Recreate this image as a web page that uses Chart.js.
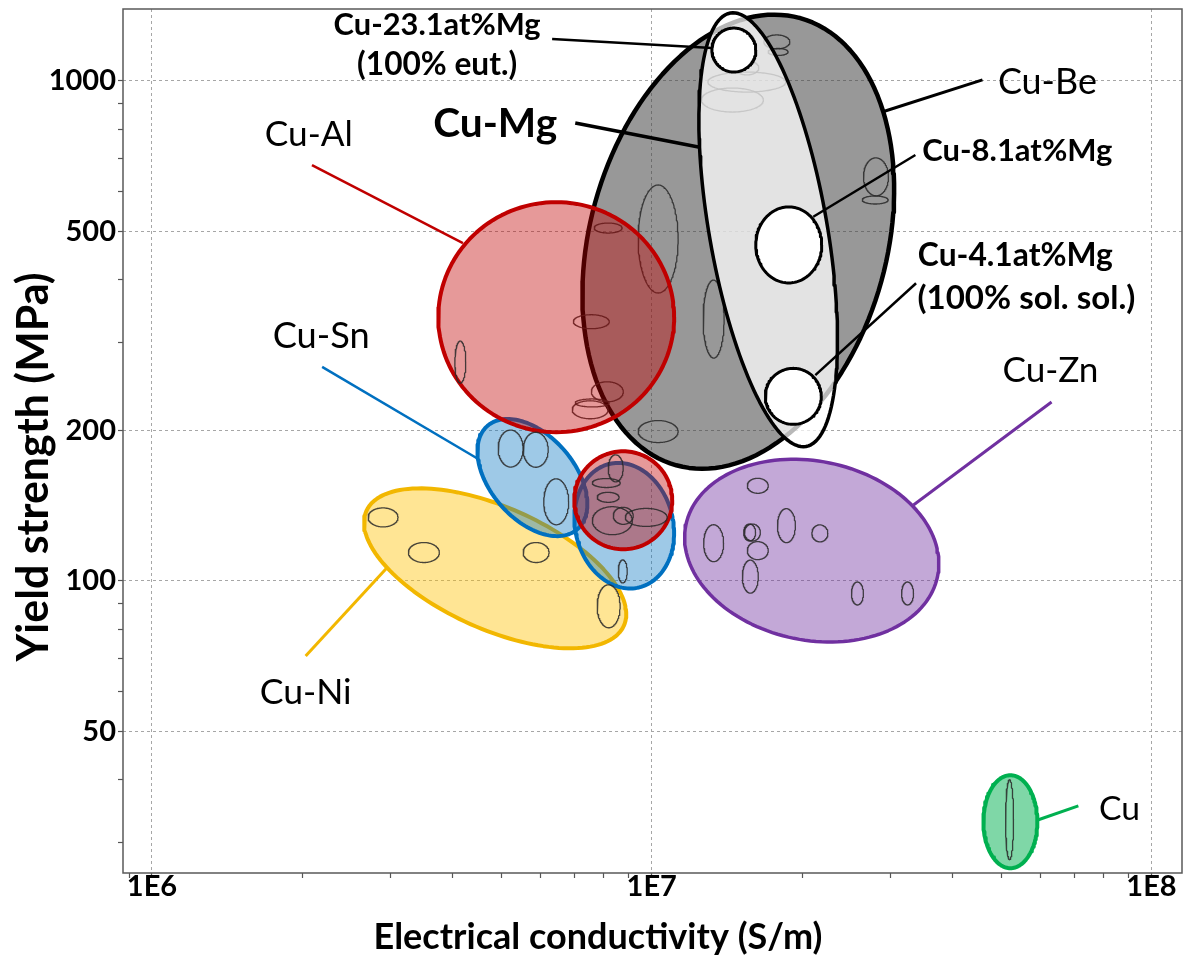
<!DOCTYPE html>
<html>
<head>
<meta charset="utf-8">
<script src="https://cdn.jsdelivr.net/npm/chart.js@4.4.1/dist/chart.umd.min.js"></script>
<style>
  html, body { margin: 0; padding: 0; background: #fff; }
  #wrap { width: 1189px; height: 974px; }
</style>
</head>
<body>
<div id="wrap"><canvas id="chart" width="1189" height="974"></canvas></div>
<script>
// ---------- axes ----------
const xTickValues = [1e6, 1e7, 1e8];
const xTickLabels = ['1E6', '1E7', '1E8'];
const yTickValues = [50, 100, 200, 500, 1000];
const yTickLabels = ['50', '100', '200', '500', '1000'];
const yMinorValues = [30, 40, 60, 70, 80, 90, 300, 400, 600, 700, 800, 900];
const xAxisTitle = 'Electrical conductivity (S/m)';
const yAxisTitle = 'Yield strength (MPa)';

// ---------- alloy-family property envelopes ----------
// centre (S/m, MPa), half-spans in decades, tilt of the long axis in degrees
const regionFamily = ['Cu-Be', 'Cu-Mg', 'Cu-Ni', 'Cu-Sn', 'Cu-Sn', 'Cu-Al', 'Cu-Al', 'Cu-Zn', 'Cu'];
const regionCond   = [1.49e7, 1.71e7, 4.86e6, 5.77e6, 8.81e6, 6.44e6, 8.77e6, 2.09e7, 5.22e7];
const regionYield  = [477, 504, 106, 161, 129, 337, 145, 115, 33.0];
const regionMajor  = [0.464, 0.440, 0.282, 0.137, 0.127, 0.236, 0.098, 0.257, 0.093];
const regionMinor  = [0.297, 0.118, 0.122, 0.084, 0.098, 0.230, 0.098, 0.179, 0.054];
const regionTilt   = [74.5, 99.9, -24, 131, 103.5, 0, 0, -11.5, 90];

// ---------- Cu-Mg alloys ----------
const mgAlloy = ['Cu-23.1at%Mg', 'Cu-8.1at%Mg', 'Cu-4.1at%Mg'];
const mgCond  = [1.46e7, 1.88e7, 1.92e7];
const mgYield = [1153, 470, 234];
const mgSpanX = [0.044, 0.066, 0.056];
const mgSpanY = [0.044, 0.076, 0.056];

// ---------- individual commercial grades ----------
const gradeFamily = [
  'Cu-Be', 'Cu-Be', 'Cu-Be', 'Cu-Be', 'Cu-Be', 'Cu-Be', 'Cu-Be', 'Cu-Be', 'Cu-Be', 'Cu-Be',
  'Cu-Be', 'Cu-Be', 'Cu-Be', 'Cu-Be', 'Cu-Be',
  'Cu-Al', 'Cu-Sn', 'Cu-Sn', 'Cu-Sn',
  'Cu-Al', 'Cu-Al', 'Cu-Al', 'Cu-Al', 'Cu-Al', 'Cu-Al', 'Cu-Sn',
  'Cu-Ni', 'Cu-Ni', 'Cu-Ni', 'Cu-Ni',
  'Cu-Zn', 'Cu-Zn', 'Cu-Zn', 'Cu-Zn', 'Cu-Zn', 'Cu-Zn', 'Cu-Zn', 'Cu-Zn', 'Cu-Zn', 'Cu-Zn',
  'Cu'
];
const gradeCond = [
  1.78e7, 1.79e7, 1.55e7, 1.55e7, 1.45e7, 1.03e7, 8.18e6, 7.57e6, 1.33e7, 8.15e6,
  7.53e6, 7.60e6, 1.03e7, 2.81e7, 2.80e7,
  4.14e6, 5.22e6, 5.86e6, 6.44e6,
  8.47e6, 8.11e6, 8.18e6, 8.34e6, 8.77e6, 9.75e6, 8.75e6,
  2.90e6, 3.50e6, 5.87e6, 8.20e6,
  1.33e7, 1.63e7, 1.57e7, 1.59e7, 1.63e7, 1.575e7, 1.86e7, 2.17e7, 2.58e7, 3.25e7,
  5.20e7
];
const gradeYield = [
  1197, 1143, 1062, 995, 916, 483, 508, 330, 334, 239,
  220, 227, 199, 643, 578,
  274, 184, 183, 144,
  168, 157, 147, 132, 135, 134, 104.5,
  134, 114, 114, 89,
  119, 155, 125, 125, 115, 102, 129, 124.5, 94.4, 94.4,
  33.3
];
const gradeSpanX = [
  0.026, 0.020, 0.024, 0.078, 0.062, 0.040, 0.028, 0.036, 0.021, 0.032,
  0.036, 0.034, 0.040, 0.025, 0.026,
  0.011, 0.025, 0.025, 0.025,
  0.015, 0.028, 0.022, 0.040, 0.020, 0.042, 0.009,
  0.030, 0.031, 0.026, 0.023,
  0.020, 0.021, 0.012, 0.016, 0.021, 0.016, 0.018, 0.016, 0.012, 0.012,
  0.008
];
const gradeSpanY = [
  0.014, 0.007, 0.014, 0.020, 0.024, 0.108, 0.010, 0.014, 0.078, 0.020,
  0.018, 0.008, 0.022, 0.038, 0.008,
  0.042, 0.037, 0.035, 0.046,
  0.027, 0.009, 0.010, 0.028, 0.017, 0.018, 0.023,
  0.019, 0.020, 0.020, 0.043,
  0.037, 0.015, 0.017, 0.017, 0.018, 0.033, 0.034, 0.017, 0.023, 0.023,
  0.080
];

// ---------- callouts ----------
const noteText  = ['Cu-23.1at%Mg', '(100% eut.)', 'Cu-Mg', 'Cu-Be', 'Cu-8.1at%Mg', 'Cu-4.1at%Mg',
                   '(100% sol. sol.)', 'Cu-Al', 'Cu-Sn', 'Cu-Zn', 'Cu-Ni', 'Cu'];
const noteCond  = [3.72e6, 3.72e6, 4.86e6, 6.19e7, 5.39e7, 5.34e7, 5.62e7, 2.06e6, 2.18e6, 6.28e7, 2.03e6, 8.63e7];
const noteYield = [1236, 1028, 773, 942, 692, 427, 350, 741, 292, 250, 56.8, 33.3];

const leaderFromCond  = [6.32e6, 7.03e6, 4.59e7, 3.37e7, 3.38e7, 2.09e6, 2.19e6, 6.31e7, 2.03e6, 7.14e7];
const leaderFromYield = [1213, 824, 1005, 711, 394, 679, 268, 228, 70.8, 35.5];
const leaderToCond    = [1.32e7, 1.24e7, 2.89e7, 2.105e7, 2.125e7, 4.19e6, 4.47e6, 3.34e7, 2.95e6, 5.94e7];
const leaderToYield   = [1164, 738, 867, 535, 258, 474, 176, 141.9, 106.2, 33.3];

// ---------- styles ----------
const familyStyle = {
  'Cu-Be': { fill: 'rgba(60,60,60,0.53)',   stroke: '#000000', width: 4.5 },
  'Cu-Mg': { fill: 'rgba(255,255,255,0.72)', stroke: '#000000', width: 3.5 },
  'Cu-Ni': { fill: 'rgba(255,192,0,0.42)',  stroke: '#f2b700', width: 4 },
  'Cu-Sn': { fill: 'rgba(0,112,192,0.38)',  stroke: '#0070c0', width: 4 },
  'Cu-Al': { fill: 'rgba(192,0,0,0.40)',    stroke: '#c00000', width: 4 },
  'Cu-Zn': { fill: 'rgba(112,48,160,0.42)', stroke: '#7030a0', width: 3.5 },
  'Cu':    { fill: 'rgba(0,176,80,0.50)',   stroke: '#00b050', width: 4 }
};
const mgStyle = { fill: '#ffffff', stroke: '#000000', width: 3 };
const gradeStyle = { stroke: 'rgba(40,40,40,0.85)', width: 1.3 };
const leaderColor = ['#000', '#000', '#000', '#000', '#000', '#c00000', '#0070c0', '#7030a0', '#f2b700', '#00b050'];
const leaderWidth = [2.5, 3.5, 3, 2.5, 2.5, 2.5, 2.5, 3, 3, 3];
const noteBold  = [true, true, true, false, true, true, true, false, false, false, false, false];
const noteWidth = [207, 160, 124, 99, 190, 195, 218, 88, 97, 96, 92, 41];
const FONT = 'Lato, "Open Sans", sans-serif';
const layout = { xTitleX: 598, xTitleBase: 949, yTitleX: 48, yTitleY: 467, xTitleWidth: 449, yTitleWidth: 389 };

// ---------- geometry helpers (log-space ellipses) ----------
const N = 144;
function ring(cond, yld, major, minor, tiltDeg) {
  const lx = Math.log10(cond), ly = Math.log10(yld);
  const t = tiltDeg * Math.PI / 180, c = Math.cos(t), s = Math.sin(t);
  const pts = [];
  for (let k = 0; k <= N; k++) {
    const a = 2 * Math.PI * k / N;
    const u = major * Math.cos(a), v = minor * Math.sin(a);
    pts.push({ x: Math.pow(10, lx + u * c - v * s), y: Math.pow(10, ly + u * s + v * c) });
  }
  return pts;
}

const layers = [];
function addShape(points, fill, stroke, width) {
  layers.push({
    data: points, showLine: true, fill: fill ? 'shape' : false,
    backgroundColor: fill || 'transparent', borderColor: stroke, borderWidth: width,
    pointRadius: 0, pointHoverRadius: 0, borderJoinStyle: 'round', borderCapStyle: 'round'
  });
}
function addGrade(i) {
  addShape(ring(gradeCond[i], gradeYield[i], gradeSpanX[i], gradeSpanY[i], 0), null, gradeStyle.stroke, gradeStyle.width);
}

// bottom-to-top drawing order
regionFamily.forEach((fam, r) => {
  const st = familyStyle[fam];
  addShape(ring(regionCond[r], regionYield[r], regionMajor[r], regionMinor[r], regionTilt[r]), st.fill, st.stroke, st.width);
  if (fam === 'Cu-Be') {
    gradeFamily.forEach((g, i) => { if (g === 'Cu-Be') addGrade(i); });
  }
  if (fam === 'Cu-Mg') {
    mgAlloy.forEach((_, i) => addShape(ring(mgCond[i], mgYield[i], mgSpanX[i], mgSpanY[i], 0), mgStyle.fill, mgStyle.stroke, mgStyle.width));
  }
});
gradeFamily.forEach((g, i) => { if (g !== 'Cu-Be') addGrade(i); });
leaderFromCond.forEach((_, i) => {
  layers.push({
    data: [{ x: leaderFromCond[i], y: leaderFromYield[i] }, { x: leaderToCond[i], y: leaderToYield[i] }],
    showLine: true, fill: false, borderColor: leaderColor[i], borderWidth: leaderWidth[i],
    pointRadius: 0, pointHoverRadius: 0, borderCapStyle: 'butt'
  });
});
// first layer gets the highest order so it is painted first
layers.forEach((d, i) => { d.order = layers.length - i; });

// ---------- ticks ----------
function decadeTicks(lo, hi) {
  const out = [];
  for (let d = Math.floor(Math.log10(lo)); d <= Math.ceil(Math.log10(hi)); d++) {
    for (let m = 1; m <= 9; m++) {
      const v = m * Math.pow(10, d);
      if (v >= lo && v <= hi) out.push(v);
    }
  }
  return out;
}
const X_MIN = 8.75e5, X_MAX = 1.151e8, Y_MIN = 26.06, Y_MAX = 1393;
const xTicksAll = decadeTicks(X_MIN, X_MAX);
const yTicksAll = yTickValues.concat(yMinorValues).sort((a, b) => a - b);
const xLabelOf = v => { const i = xTickValues.indexOf(v); return i < 0 ? '' : xTickLabels[i]; };
const yLabelOf = v => { const i = yTickValues.indexOf(v); return i < 0 ? '' : yTickLabels[i]; };

const tickFont = { family: FONT, weight: 'bold', size: 29, lineHeight: 1 };
const gridColor = major => ctx => (ctx.tick && major.includes(ctx.tick.value)) ? '#a6a6a6' : 'rgba(0,0,0,0)';

// ---------- plugins ----------
const framePlugin = {
  id: 'frame',
  beforeDatasetsDraw(chart) {
    const { ctx, chartArea: a } = chart;
    ctx.save();
    ctx.strokeStyle = '#595959';
    ctx.lineWidth = 1.5;
    ctx.strokeRect(a.left, a.top, a.right - a.left, a.bottom - a.top);
    ctx.restore();
  }
};

function fitFont(ctx, text, bold, width) {
  const w = bold ? 'bold ' : '';
  ctx.font = w + '100px ' + FONT;
  const size = 100 * width / ctx.measureText(text).width;
  ctx.font = w + size.toFixed(2) + 'px ' + FONT;
}

const notesPlugin = {
  id: 'notes',
  afterDatasetsDraw(chart) {
    const { ctx, scales: { x, y } } = chart;
    ctx.save();
    ctx.fillStyle = '#000';
    ctx.textAlign = 'center';
    ctx.textBaseline = 'alphabetic';
    noteText.forEach((t, i) => {
      fitFont(ctx, t, noteBold[i], noteWidth[i]);
      ctx.fillText(t, x.getPixelForValue(noteCond[i]), y.getPixelForValue(noteYield[i]));
    });
    // axis titles
    fitFont(ctx, xAxisTitle, true, layout.xTitleWidth);
    ctx.fillText(xAxisTitle, layout.xTitleX, layout.xTitleBase);
    ctx.translate(layout.yTitleX, layout.yTitleY);
    ctx.rotate(-Math.PI / 2);
    fitFont(ctx, yAxisTitle, true, layout.yTitleWidth);
    ctx.fillText(yAxisTitle, 0, 0);
    ctx.restore();
  }
};

new Chart(document.getElementById('chart'), {
  type: 'scatter',
  data: { datasets: layers },
  options: {
    responsive: false,
    animation: false,
    events: [],
    layout: { padding: { left: 0, right: 7, top: 9, bottom: 0 } },
    plugins: { legend: { display: false }, tooltip: { enabled: false } },
    elements: { line: { tension: 0 } },
    scales: {
      x: {
        type: 'logarithmic', min: X_MIN, max: X_MAX,
        afterFit(s) { s.height = 101; s.paddingLeft = 0; s.paddingRight = 0; },
        afterBuildTicks(s) { s.ticks = xTicksAll.map(v => ({ value: v })); },
        ticks: { autoSkip: false, maxRotation: 0, minRotation: 0, padding: -6, color: '#000', font: tickFont, callback: v => xLabelOf(v) },
        grid: { color: gridColor(xTickValues), lineWidth: 1, tickColor: '#555', tickLength: 5, tickWidth: 1.2 },
        border: { display: false, dash: [3, 3] }
      },
      y: {
        type: 'logarithmic', min: Y_MIN, max: Y_MAX,
        afterFit(s) { s.width = 123; s.paddingTop = 0; s.paddingBottom = 0; },
        afterBuildTicks(s) { s.ticks = yTicksAll.map(v => ({ value: v })); },
        ticks: { autoSkip: false, padding: 2, color: '#000', font: tickFont, callback: v => yLabelOf(v) },
        grid: { color: gridColor(yTickValues), lineWidth: 1, tickColor: '#555', tickLength: 5, tickWidth: 1.2 },
        border: { display: false, dash: [3, 3] }
      }
    }
  },
  plugins: [framePlugin, notesPlugin]
});
</script>
</body>
</html>
